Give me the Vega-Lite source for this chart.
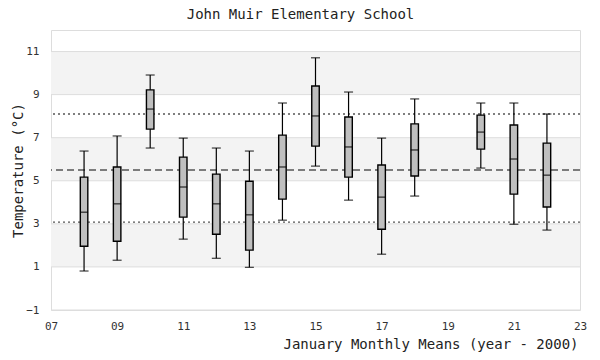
{
  "$schema": "https://vega.github.io/schema/vega-lite/v6.json",
  "width": 529,
  "height": 280,
  "autosize": "none",
  "padding": {"left": 51, "top": 30, "right": 20, "bottom": 50},
  "title": {"text": "John Muir Elementary School", "font": "DejaVu Sans Mono", "fontSize": 14, "fontWeight": "normal", "color": "#222222", "anchor": "middle", "dx": -15, "dy": 15, "baseline": "alphabetic", "offset": 12},
  "datasets": {
    "boxes": [
      {"year": 8, "min": 0.81, "q1": 1.96, "median": 3.54, "q3": 5.17, "max": 6.38},
      {"year": 9, "min": 1.31, "q1": 2.19, "median": 3.93, "q3": 5.64, "max": 7.08},
      {"year": 10, "min": 6.52, "q1": 7.40, "median": 8.33, "q3": 9.22, "max": 9.91},
      {"year": 11, "min": 2.29, "q1": 3.31, "median": 4.71, "q3": 6.10, "max": 6.98},
      {"year": 12, "min": 1.40, "q1": 2.52, "median": 3.93, "q3": 5.31, "max": 6.52},
      {"year": 13, "min": 0.98, "q1": 1.78, "median": 3.42, "q3": 4.98, "max": 6.38},
      {"year": 14, "min": 3.17, "q1": 4.15, "median": 5.64, "q3": 7.12, "max": 8.61},
      {"year": 15, "min": 5.68, "q1": 6.61, "median": 8.01, "q3": 9.40, "max": 10.71},
      {"year": 16, "min": 4.10, "q1": 5.17, "median": 6.57, "q3": 7.96, "max": 9.12},
      {"year": 17, "min": 1.59, "q1": 2.75, "median": 4.24, "q3": 5.73, "max": 6.98},
      {"year": 18, "min": 4.29, "q1": 5.22, "median": 6.43, "q3": 7.64, "max": 8.80},
      {"year": 20, "min": 5.59, "q1": 6.47, "median": 7.26, "q3": 8.05, "max": 8.61},
      {"year": 21, "min": 2.98, "q1": 4.38, "median": 6.01, "q3": 7.59, "max": 8.61},
      {"year": 22, "min": 2.71, "q1": 3.78, "median": 5.26, "q3": 6.75, "max": 8.10}
    ],
    "bands": [
      {"lo": 9, "hi": 11},
      {"lo": 5, "hi": 7},
      {"lo": 1, "hi": 3}
    ],
    "grid": [
      {"g": -1}, {"g": 1}, {"g": 3}, {"g": 5}, {"g": 7}, {"g": 9}, {"g": 11}
    ],
    "refs": [
      {"v": 8.10, "kind": "dotted"},
      {"v": 3.08, "kind": "dotted"},
      {"v": 5.50, "kind": "dashed"}
    ]
  },
  "layer": [
    {
      "data": {"name": "bands"},
      "mark": {"type": "rect", "color": "#f3f3f3"},
      "encoding": {
        "x": {"datum": 7, "type": "quantitative", "scale": {"domain": [7, 23], "nice": false, "zero": false, "padding": 0},
          "axis": {"values": [7, 9, 11, 13, 15, 17, 19, 21, 23], "format": "02d", "grid": false, "labelFlush": false, "title": "January Monthly Means (year - 2000)", "titleAlign": "right", "titleAnchor": null, "titleX": 527, "titleY": 38, "titleBaseline": "alphabetic", "labelPadding": 10}},
        "x2": {"datum": 23},
        "y": {"field": "lo", "type": "quantitative", "scale": {"domain": [-1, 12], "nice": false, "zero": false, "padding": 0},
          "axis": {"values": [-1, 1, 3, 5, 7, 9, 11], "grid": false, "labelFlush": false, "title": "Temperature (°C)", "titleAngle": -90, "titleX": -33, "titleY": 140, "titleAlign": "center", "titleBaseline": "middle", "labelPadding": 12}},
        "y2": {"field": "hi"}
      }
    },
    {
      "data": {"name": "grid"},
      "mark": {"type": "rule", "color": "#dddddd", "strokeWidth": 1},
      "encoding": {"y": {"field": "g", "type": "quantitative"}}
    },
    {
      "data": {"name": "refs"},
      "transform": [{"filter": "datum.kind == 'dotted'"}],
      "mark": {"type": "rule", "color": "#555555", "strokeWidth": 1.3, "strokeDash": [2, 3]},
      "encoding": {"y": {"field": "v", "type": "quantitative"}}
    },
    {
      "data": {"name": "refs"},
      "transform": [{"filter": "datum.kind == 'dashed'"}],
      "mark": {"type": "rule", "color": "#555555", "strokeWidth": 1.3, "strokeDash": [7, 4]},
      "encoding": {"y": {"field": "v", "type": "quantitative"}}
    },
    {
      "data": {"name": "boxes"},
      "mark": {"type": "rule", "color": "#000000", "strokeWidth": 1.2},
      "encoding": {
        "x": {"field": "year", "type": "quantitative"},
        "y": {"field": "min", "type": "quantitative"},
        "y2": {"field": "max"}
      }
    },
    {
      "data": {"name": "boxes"},
      "mark": {"type": "tick", "orient": "horizontal", "color": "#000000", "size": 9, "thickness": 1.3},
      "encoding": {
        "x": {"field": "year", "type": "quantitative"},
        "y": {"field": "min", "type": "quantitative"}
      }
    },
    {
      "data": {"name": "boxes"},
      "mark": {"type": "tick", "orient": "horizontal", "color": "#000000", "size": 9, "thickness": 1.3},
      "encoding": {
        "x": {"field": "year", "type": "quantitative"},
        "y": {"field": "max", "type": "quantitative"}
      }
    },
    {
      "data": {"name": "boxes"},
      "mark": {"type": "bar", "fill": "#bfbfbf", "stroke": "#000000", "strokeWidth": 1.4, "size": 7.5, "opacity": 1},
      "encoding": {
        "x": {"field": "year", "type": "quantitative"},
        "y": {"field": "q1", "type": "quantitative"},
        "y2": {"field": "q3"}
      }
    },
    {
      "data": {"name": "boxes"},
      "mark": {"type": "tick", "orient": "horizontal", "color": "#000000", "size": 8, "thickness": 1.4},
      "encoding": {
        "x": {"field": "year", "type": "quantitative"},
        "y": {"field": "median", "type": "quantitative"}
      }
    }
  ],
  "config": {
    "font": "DejaVu Sans Mono",
    "view": {"stroke": "#dddddd"},
    "axis": {
      "labelFont": "DejaVu Sans Mono",
      "labelFontSize": 11,
      "labelColor": "#333333",
      "titleFont": "DejaVu Sans Mono",
      "titleFontSize": 14,
      "titleFontWeight": "normal",
      "titleColor": "#222222",
      "domain": false,
      "ticks": false,
      "tickSize": 0
    }
  }
}
